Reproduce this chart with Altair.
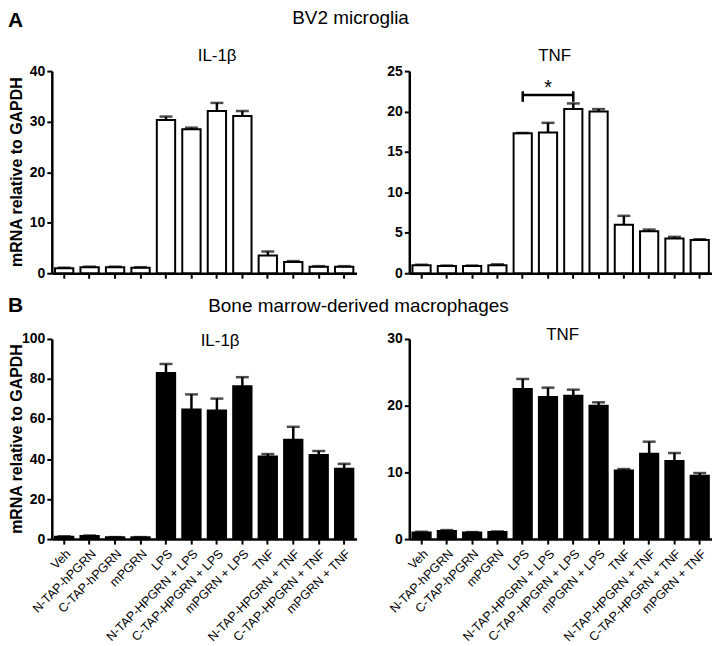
import altair as alt
import pandas as pd

FONT = "Liberation Sans"

conditions = ["Veh", "N-TAP-hPGRN", "C-TAP-hPGRN", "mPGRN", "LPS",
              "N-TAP-HPGRN + LPS", "C-TAP-HPGRN + LPS", "mPGRN + LPS",
              "TNF", "N-TAP-HPGRN + TNF", "C-TAP-HPGRN + TNF", "mPGRN + TNF"]

bv2_il1b_mean = [1.0, 1.2, 1.2, 1.1, 30.3, 28.5, 32.1, 31.1, 3.5, 2.2, 1.3, 1.3]
bv2_il1b_err = [0.1, 0.1, 0.1, 0.1, 0.7, 0.3, 1.6, 1.0, 0.8, 0.2, 0.1, 0.1]
bv2_tnf_mean = [1.0, 0.9, 0.9, 1.0, 17.3, 17.4, 20.3, 20.0, 6.0, 5.2, 4.3, 4.1]
bv2_tnf_err = [0.05, 0.05, 0.05, 0.1, 0.05, 1.2, 0.7, 0.3, 1.1, 0.2, 0.2, 0.1]
bmdm_il1b_mean = [1.2, 1.5, 0.9, 0.9, 83.0, 64.8, 64.2, 76.4, 41.3, 49.6, 42.0, 35.2]
bmdm_il1b_err = [0.2, 0.3, 0.1, 0.1, 4.5, 7.5, 6.0, 4.5, 1.2, 6.5, 2.0, 2.4]
bmdm_tnf_mean = [1.0, 1.2, 1.0, 1.05, 22.5, 21.3, 21.5, 20.0, 10.3, 12.8, 11.7, 9.5]
bmdm_tnf_err = [0.1, 0.15, 0.05, 0.1, 1.5, 1.4, 0.9, 0.5, 0.2, 1.8, 1.2, 0.4]

# significance bracket (BV2, TNF)
sig_from = "LPS"
sig_to = "C-TAP-HPGRN + LPS"
sig_mid = "N-TAP-HPGRN + LPS"
sig_y = 22.05
sig_lo = 21.2
sig_hi = 22.5
sig_star_y = 23.4

W_L, W_R = 306, 304
H_T, H_B = 203, 201


def txt(text, x, y, size, weight="normal", align="center", angle=0, baseline="alphabetic"):
    return alt.Chart(alt.Data(values=[{}])).mark_text(
        text=text, font=FONT, fontSize=size, fontWeight=weight, align=align,
        baseline=baseline, angle=angle, color="black"
    ).encode(x=alt.value(x), y=alt.value(y))


def panel(mean, err, fill, ymax, ystep, show_labels):
    df = pd.DataFrame({"cond": conditions, "mean": mean,
                       "upper": [m + e for m, e in zip(mean, err)]})
    base = alt.Chart(df)
    x = alt.X("cond:N", sort=conditions,
              scale=alt.Scale(paddingInner=0.28, paddingOuter=0.125),
              axis=alt.Axis(title=None, labels=show_labels, labelAngle=-45,
                            labelFont=FONT, labelFontSize=12.5, labelColor="black",
                            labelPadding=3, labelLimit=300,
                            ticks=True, tickSize=5, tickWidth=2, tickColor="black",
                            domainWidth=2.5, domainColor="black"))
    y = alt.Y("mean:Q", scale=alt.Scale(domain=[0, ymax], nice=False),
              axis=alt.Axis(title=None, values=list(range(0, ymax + 1, ystep)),
                            labelFont=FONT, labelFontSize=14, labelFontWeight="bold",
                            labelColor="black", labelPadding=2,
                            tickSize=5, tickWidth=2, tickColor="black",
                            domainWidth=2.5, domainColor="black", grid=False))
    bars = base.mark_bar(fill=fill, stroke="black", strokeWidth=2).encode(x=x, y=y)
    rule = base.mark_rule(color="black", strokeWidth=2.5).encode(
        x=alt.X("cond:N", sort=conditions), y="mean:Q", y2="upper:Q")
    cap = base.mark_tick(color="black", size=13, thickness=2.5).encode(
        x=alt.X("cond:N", sort=conditions), y="upper:Q")
    return [bars, rule, cap]


ytitle = "mRNA relative to GAPDH"

tl = alt.layer(
    *panel(bv2_il1b_mean, bv2_il1b_err, "white", 40, 10, False),
    txt("A", -44, -44, 21, "bold", align="left"),
    txt("BV2 microglia", 300, -47, 19),
    txt("IL-1β", 166, -10, 17),
    txt(ytitle, -35, H_T / 2, 16, "bold", angle=270, baseline="middle"),
).properties(width=W_L, height=H_T)

sig_line = pd.DataFrame({"cond": [sig_from, sig_to], "y": [sig_y, sig_y]})
sig_ends = pd.DataFrame({"cond": [sig_from, sig_to], "lo": [sig_lo, sig_lo], "hi": [sig_hi, sig_hi]})
sig_star = pd.DataFrame({"cond": [sig_mid], "y": [sig_star_y]})

tr = alt.layer(
    *panel(bv2_tnf_mean, bv2_tnf_err, "white", 25, 5, False),
    alt.Chart(sig_line).mark_line(color="black", strokeWidth=2.5).encode(
        x=alt.X("cond:N", sort=conditions), y="y:Q"),
    alt.Chart(sig_ends).mark_rule(color="black", strokeWidth=2.5).encode(
        x=alt.X("cond:N", sort=conditions), y="lo:Q", y2="hi:Q"),
    alt.Chart(sig_star).mark_text(text="*", font=FONT, fontSize=20, color="black",
                                  baseline="middle", dy=4).encode(
        x=alt.X("cond:N", sort=conditions), y="y:Q"),
    txt("TNF", 146, -10, 17),
).properties(width=W_R, height=H_T)

bl = alt.layer(
    *panel(bmdm_il1b_mean, bmdm_il1b_err, "black", 100, 20, True),
    txt("B", -44, -27, 21, "bold", align="left"),
    txt("Bone marrow-derived macrophages", 308, -27, 19),
    txt("IL-1β", 169, 7, 17),
    txt(ytitle, -35, H_B / 2, 16, "bold", angle=270, baseline="middle"),
).properties(width=W_L, height=H_B)

br = alt.layer(
    *panel(bmdm_tnf_mean, bmdm_tnf_err, "black", 30, 10, True),
    txt("TNF", 154, 1, 17),
).properties(width=W_R, height=H_B)

chart = alt.concat(
    tl, tr, bl, br, columns=2, spacing={"row": 66, "column": 53},
    bounds="flush", align="all"
).properties(padding=0, background="white").configure_view(stroke=None)

chart.save("out.html", embed_options={"renderer": "svg", "actions": False})
